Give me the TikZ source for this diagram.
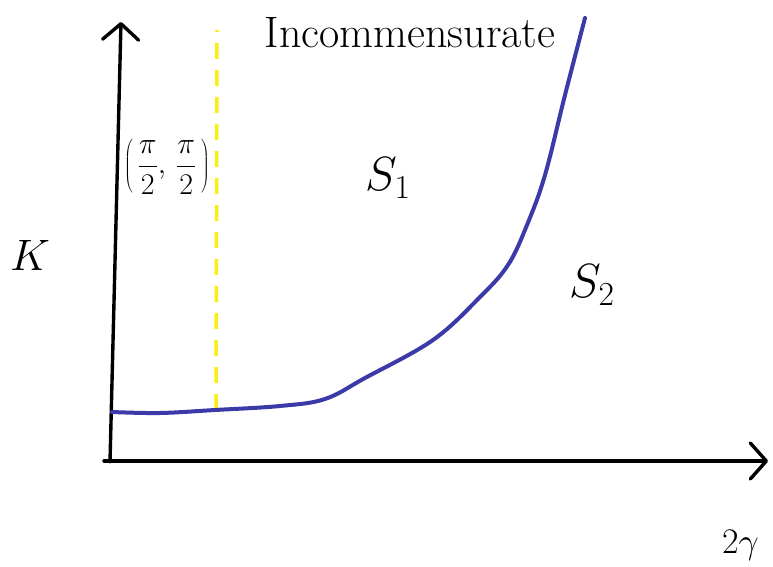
\RequirePackage{fix-cm}
\documentclass[tikz,border=0pt]{standalone}
\usetikzlibrary{arrows.meta}
\definecolor{curveblue}{RGB}{58,58,168}
\definecolor{dashyellow}{RGB}{250,238,20}
\begin{document}
\begin{tikzpicture}[x=1pt,y=-1pt,
  axis/.style={line width=3.4pt,line cap=round,-{Straight Barb[length=16pt,width=36pt,line width=3.4pt,round]}},
  lbl/.style={inner sep=0pt,text=black}]
\useasboundingbox (0,0) rectangle (773,567);
% axes
\coordinate (O) at (110,462);
\coordinate (ytop) at (121,22);
\coordinate (xstart) at (104,461);
\coordinate (xend) at (768,461);
\draw[axis] (O) -- (ytop);
\draw[axis] (xstart) -- (xend);
% yellow dashed line
\coordinate (ya) at (216,410);
\coordinate (yb) at (217,30);
\draw[dashyellow,line width=3.5pt,dash pattern=on 16pt off 11pt] (ya) -- (yb);
% blue curve
\draw[curveblue,line width=4pt,line cap=round] plot[smooth,tension=0.6] coordinates {
 (112,412) (160,413) (215,410) (280,406) (325,399) (365,378) (433,340)
 (480,297) (508,265) (527,225) (545,175) (565,95) (585,18)};
% labels
\node[lbl] (inc) at (410,33) {\fontsize{44}{46}\selectfont Incommensurate};
\node[lbl] (s1) at (388,178) {\fontsize{48}{52}\selectfont $S_1$};
\node[lbl] (s2) at (592,285) {\fontsize{48}{52}\selectfont $S_2$};
\node[lbl] (k) at (30,255) {\fontsize{44}{48}\selectfont $K$};
\node[lbl] (pt) at (167,167) {\fontsize{30}{34}\selectfont $\displaystyle\left(\,\frac{\pi}{2},\,\frac{\pi}{2}\,\right)$};
\node[lbl,anchor=west] (gam) at (722,545) {\fontsize{36}{40}\selectfont $2\gamma$};
\end{tikzpicture}
\end{document}
